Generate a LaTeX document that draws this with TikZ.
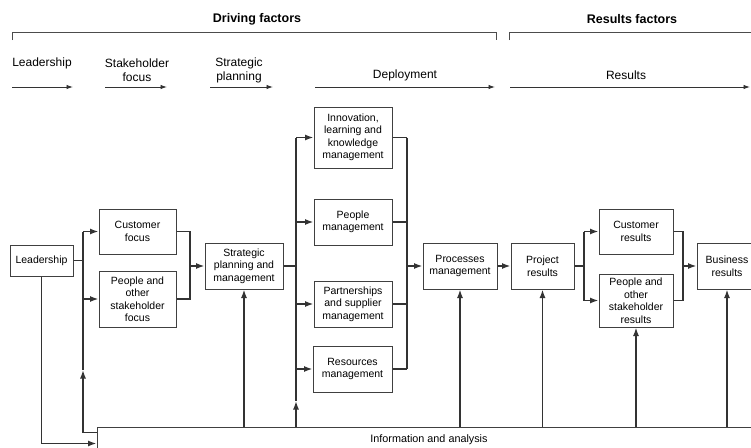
\documentclass[tikz,border=0pt]{standalone}
\usepackage{fontspec}
\setmainfont{Liberation Sans}
\usetikzlibrary{arrows.meta, calc, positioning}

\begin{document}
\begin{tikzpicture}[
    x=1pt, y=-1pt,
    every node/.style={align=center, inner sep=1pt},
    blk/.style={draw=black!75, line width=1pt, font=\fontsize{10.5}{12.5}\selectfont},
    lab/.style={font=\fontsize{12}{14}\selectfont},
    head/.style={font=\bfseries\fontsize{12.5}{15}\selectfont},
    wire/.style={draw=black!80, line width=1.5pt},
    arr/.style={wire, -{Latex[length=8.5pt,width=6pt]}},
    tarr/.style={draw=black!80, line width=0.9pt, -{Latex[length=6.5pt,width=4.5pt]}},
    brk/.style={draw=black!70, line width=0.8pt}
]
    \useasboundingbox (0,0) rectangle (751,447);
    \clip (0,0) rectangle (751,447);

    % Headings and brackets
    \node[head] (drv) at (257,19) {Driving factors};
    \node[head] (rsf) at (632,19) {Results factors};
    \draw[brk] (12,40) -- (12,32) -- (496,32) -- (496,40);
    \draw[brk] (509,40) -- (509,32) -- (760,32);

    % Stage labels
    \node[lab] (tLead) at (42,63) {Leadership};
    \node[lab] (tStake) at (137,70) {Stakeholder\\focus};
    \node[lab] (tStrat) at (239,70) {Strategic\\planning};
    \node[lab] (tDepl) at (405,75) {Deployment};
    \node[lab] (tRes) at (626,75) {Results};
    \foreach \a/\b in {12/73, 105/167, 210/273, 315/495, 510/750}
        \draw[tarr] (\a,87) -- (\b,87);

    % Driving boxes
    \node[blk, minimum width=63pt, minimum height=31pt] (lead) at (41.5,260.5) {Leadership};
    \node[blk, minimum width=77pt, minimum height=45pt] (cust) at (137.5,231.5) {Customer\\focus};
    \node[blk, minimum width=77pt, minimum height=56pt] (ppl) at (137.5,299) {People and\\other\\stakeholder\\focus};
    \node[blk, minimum width=78pt, minimum height=46pt] (strat) at (244,266) {Strategic\\planning and\\management};

    % Deployment boxes
    \node[blk, minimum width=78pt, minimum height=61pt] (innov) at (353,137.5) {Innovation,\\learning and\\knowledge\\management};
    \node[blk, minimum width=78pt, minimum height=46pt] (pman) at (353,222) {People\\management};
    \node[blk, minimum width=78pt, minimum height=46pt] (part) at (353,304) {Partnerships\\and supplier\\management};
    \node[blk, minimum width=79pt, minimum height=46pt] (res) at (352.5,369) {Resources\\management};
    \node[blk, minimum width=74pt, minimum height=46pt] (proc) at (460,266) {Processes\\management};

    % Results boxes
    \node[blk, minimum width=63pt, minimum height=46pt] (proj) at (542.5,266) {Project\\results};
    \node[blk, minimum width=74pt, minimum height=45pt] (custr) at (636,231.5) {Customer\\results};
    \node[blk, minimum width=74pt, minimum height=53pt] (pplr) at (636,300.5) {People and\\other\\stakeholder\\results};
    \node[blk, minimum width=60pt, minimum height=46pt] (bus) at (727,266) {Business\\results};

    % Information and analysis
    \node[blk, minimum width=664pt, minimum height=26pt, font=\fontsize{10.8}{13}\selectfont] (info) at (429,440) {Information and analysis};

    % Junction points
    \coordinate (brL) at (83,260.5);
    \coordinate (upA) at (83,370);
    \coordinate (inA) at ($(info.north west)+(0,6)$);
    \coordinate (inB) at ($(info.north west)+(0,17)$);
    \coordinate (jA) at (190,266);
    \coordinate (brD) at (296,266);
    \coordinate (upD) at (296,401);
    \coordinate (jB) at (407,266);
    \coordinate (brR) at (584,266);
    \coordinate (jC) at (683,266);

    % Leadership to stakeholder boxes
    \draw[wire] (lead.east) -- (brL);
    \draw[arr] (brL |- cust.west) -- (cust.west);
    \draw[arr] (brL |- ppl.west) -- (ppl.west);
    \draw[wire] (brL |- cust.west) -- (upA);
    \draw[arr] (inA) -| (upA);
    \draw[arr] (lead.south) |- (inB);

    % Stakeholder boxes to strategy
    \draw[wire] (cust.east) -| (jA) |- (ppl.east);
    \draw[arr] (jA) -- (strat.west);
    \draw[arr] (info.north -| strat.south) -- (strat.south);

    % Strategy to deployment
    \draw[wire] (strat.east) -- (brD);
    \draw[wire] (brD |- innov.west) -- (upD);
    \draw[arr] (info.north -| upD) -- (upD);
    \foreach \b in {innov, pman, part, res} {
        \draw[arr] (brD |- \b.west) -- (\b.west);
        \draw[wire] (\b.east) -- (\b.east -| jB);
    }
    \draw[wire] (jB |- innov.east) -- (jB |- res.east);
    \draw[arr] (jB) -- (proc.west);
    \draw[arr] (info.north -| proc.south) -- (proc.south);

    % Results chain
    \draw[arr] (proc.east) -- (proj.west);
    \draw[arr] (info.north -| proj.south) -- (proj.south);
    \draw[wire] (proj.east) -- (brR);
    \draw[wire] (brR |- custr.west) -- (brR |- pplr.west);
    \draw[arr] (brR |- custr.west) -- (custr.west);
    \draw[arr] (brR |- pplr.west) -- (pplr.west);
    \draw[arr] (info.north -| pplr.south) -- (pplr.south);
    \draw[wire] (custr.east) -| (jC) |- (pplr.east);
    \draw[arr] (jC) -- (bus.west);
    \draw[arr] (info.north -| bus.south) -- (bus.south);
\end{tikzpicture}
\end{document}
